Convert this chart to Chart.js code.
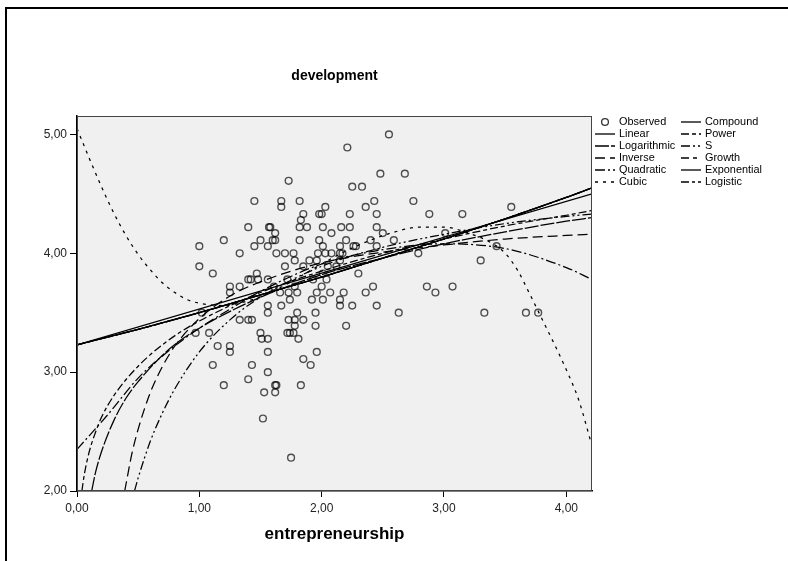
<!DOCTYPE html>
<html><head><meta charset="utf-8">
<script src="https://cdn.jsdelivr.net/npm/chart.js@4.4.1/dist/chart.umd.min.js"></script>
<style>
html,body{margin:0;padding:0;background:#fff;}
#wrap{position:relative;width:788px;height:561px;overflow:hidden;}
#frame{position:absolute;left:5px;top:7px;width:820px;height:600px;border-left:2px solid #000;border-top:2px solid #000;}
canvas{position:absolute;left:0;top:0;}
</style></head><body>
<div id="wrap"><div id="frame"></div><canvas id="c" width="788" height="561"></canvas></div>
<script>
const chartTitle = 'development';
const xAxisTitle = 'entrepreneurship';
const xTicks = [0, 1, 2, 3, 4];
const yTicks = [2, 3, 4, 5];

const observedX = [1.73,1.45,1.67,1.67,1.82,1.85,1.83,1.40,1.57,1.58,1.82,1.88,1.62,1.20,1.50,1.60,1.62,1.82,1.98,1.98,1.00,1.45,1.56,1.33,1.63,1.70,1.77,1.78,1.90,1.00,1.70,1.85,1.97,
 1.11,1.47,1.40,1.42,1.48,1.56,1.25,1.33,1.25,1.72,1.78,1.93,1.96,1.92,1.61,1.66,1.73,1.80,1.56,1.67,1.74,1.80,1.95,1.33,1.40,1.43,1.56,1.73,1.78,1.85,1.95,1.50,1.51,1.56,1.72,1.74,1.77,1.78,1.81,1.15,1.25,1.25,1.56,1.96,1.11,1.43,1.85,1.91,1.40,1.56,1.20,1.62,1.63,1.83,1.53,1.62,1.52,1.75,0.97,1.08,1.02,
 2.55,2.21,2.48,2.68,2.25,2.33,2.43,2.75,2.03,2.36,2.00,2.23,2.45,2.88,2.01,2.16,2.23,2.45,2.08,2.50,2.20,2.40,2.59,2.01,2.15,2.26,2.28,2.45,3.01,2.03,2.08,2.15,2.17,2.15,2.30,2.79,2.04,2.00,2.42,2.86,2.93,2.07,2.18,2.36,2.01,2.15,2.25,2.45,2.15,2.05,2.12,2.01,1.96,
 3.07,2.63,3.33,3.67,3.77,2.20,3.15,3.55,3.43,3.30];
const observedY = [4.61,4.44,4.44,4.39,4.44,4.33,4.28,4.22,4.22,4.22,4.22,4.22,4.17,4.11,4.11,4.11,4.11,4.11,4.11,4.33,4.06,4.06,4.06,4.00,4.00,4.00,4.00,3.94,3.94,3.89,3.89,3.89,4.00,
 3.83,3.83,3.78,3.78,3.78,3.78,3.72,3.72,3.67,3.78,3.72,3.78,3.67,3.61,3.72,3.67,3.67,3.67,3.56,3.56,3.61,3.50,3.50,3.44,3.44,3.44,3.50,3.44,3.44,3.44,3.39,3.33,3.28,3.28,3.33,3.33,3.33,3.39,3.28,3.22,3.22,3.17,3.17,3.17,3.06,3.06,3.11,3.06,2.94,3.00,2.89,2.89,2.89,2.89,2.83,2.83,2.61,2.28,3.33,3.33,3.50,
 5.00,4.89,4.67,4.67,4.56,4.56,4.44,4.44,4.39,4.39,4.33,4.33,4.33,4.33,4.22,4.22,4.22,4.22,4.17,4.17,4.11,4.11,4.11,4.06,4.06,4.06,4.06,4.06,4.17,4.00,4.00,4.00,4.00,3.94,3.83,4.00,3.78,3.72,3.72,3.72,3.67,3.67,3.67,3.67,3.61,3.61,3.56,3.56,3.56,3.89,3.89,3.83,3.94,
 3.72,3.50,3.50,3.50,3.50,3.39,4.33,4.39,4.06,3.94];

// fitted curves, values
const linearX = [0, 4.21];
const linearY = [3.23, 4.50];
const logarithmicX = [0.12, 0.15, 0.2, 0.3, 0.4, 0.5, 0.75, 1, 1.5, 2, 2.5, 3, 3.5, 4, 4.21];
const logarithmicY = [2.00, 2.15, 2.33, 2.59, 2.78, 2.92, 3.19, 3.37, 3.63, 3.82, 3.96, 4.08, 4.18, 4.27, 4.30];
const inverseX = [0.39, 0.45, 0.5, 0.6, 0.7, 0.8, 1, 1.25, 1.5, 2, 2.5, 3, 3.5, 4, 4.21];
const inverseY = [2.00, 2.32, 2.52, 2.83, 3.05, 3.22, 3.45, 3.64, 3.76, 3.92, 4.01, 4.07, 4.12, 4.15, 4.16];
const quadraticX = [0, 0.25, 0.5, 0.75, 1, 1.25, 1.5, 2, 2.5, 3, 3.5, 4, 4.21];
const quadraticY = [2.35, 2.64, 2.95, 3.18, 3.37, 3.53, 3.68, 3.91, 4.03, 4.08, 4.04, 3.88, 3.78];
const cubicX = [0, 0.1, 0.2, 0.3, 0.4, 0.5, 0.6, 0.7, 0.8, 0.9, 1.0, 1.2, 1.4, 1.6, 1.8, 2.0, 2.2, 2.4, 2.6, 2.8, 3.0, 3.2, 3.4, 3.5, 3.6, 3.7, 3.8, 3.9, 4.0, 4.1, 4.21];
const cubicY = [5.05, 4.80, 4.56, 4.34, 4.15, 3.99, 3.86, 3.75, 3.67, 3.61, 3.58, 3.56, 3.60, 3.68, 3.79, 3.91, 4.02, 4.11, 4.18, 4.22, 4.22, 4.17, 4.08, 4.00, 3.86, 3.66, 3.45, 3.24, 3.02, 2.77, 2.38];
const compoundX = [0, 0.5, 1, 1.5, 2, 2.5, 3, 3.5, 4, 4.21];
const compoundY = [3.23, 3.36, 3.50, 3.65, 3.80, 3.96, 4.12, 4.29, 4.47, 4.55];
const powerX = [0.04, 0.06, 0.1, 0.15, 0.2, 0.3, 0.5, 0.75, 1, 1.5, 2, 2.5, 3, 3.5, 4, 4.21];
const powerY = [2.00, 2.14, 2.33, 2.49, 2.62, 2.80, 3.05, 3.27, 3.43, 3.67, 3.85, 4.00, 4.12, 4.23, 4.32, 4.36];
const sCurveX = [0.47, 0.5, 0.6, 0.7, 0.8, 1, 1.25, 1.5, 2, 2.5, 3, 3.5, 4, 4.21];
const sCurveY = [2.00, 2.11, 2.42, 2.66, 2.86, 3.17, 3.44, 3.63, 3.89, 4.05, 4.16, 4.25, 4.31, 4.33];
const growthY = compoundY;
const exponentialY = compoundY;
const logisticY = compoundY;

const fmt = v => Number(v).toFixed(2).replace('.', ',');
const FONT = '"Liberation Sans", Arial, sans-serif';

const fits = [
  {label: 'Linear', x: linearX, y: linearY, dash: []},
  {label: 'Logarithmic', x: logarithmicX, y: logarithmicY, dash: [14, 2]},
  {label: 'Inverse', x: inverseX, y: inverseY, dash: [10, 5]},
  {label: 'Quadratic', x: quadraticX, y: quadraticY, dash: [10, 3, 2, 3]},
  {label: 'Cubic', x: cubicX, y: cubicY, dash: [3, 5]},
  {label: 'Compound', x: compoundX, y: compoundY, dash: []},
  {label: 'Power', x: powerX, y: powerY, dash: [8, 3, 4, 3]},
  {label: 'S', x: sCurveX, y: sCurveY, dash: [9, 3, 2, 3, 2, 3]},
  {label: 'Growth', x: compoundX, y: growthY, dash: [8, 4, 4, 4]},
  {label: 'Exponential', x: compoundX, y: exponentialY, dash: []},
  {label: 'Logistic', x: compoundX, y: logisticY, dash: [8, 3, 3, 3, 3, 3]}
];

const datasets = [{
  label: 'Observed',
  data: observedX.map((x, i) => ({x: x, y: observedY[i]})),
  showLine: false,
  pointStyle: 'circle',
  pointRadius: 3.4,
  pointBorderWidth: 1.4,
  borderColor: 'rgba(0,0,0,0.68)',
  backgroundColor: 'rgba(0,0,0,0)'
}];
fits.forEach(f => datasets.push({
  label: f.label,
  data: f.x.map((x, i) => ({x: x, y: f.y[i]})),
  showLine: true,
  pointRadius: 0,
  borderColor: '#000',
  borderWidth: 1.25,
  borderDash: f.dash,
  cubicInterpolationMode: 'monotone',
  fill: false
}));

const plotBg = {
  id: 'plotBg',
  beforeDraw(chart) {
    const {ctx, chartArea: a} = chart;
    ctx.save();
    ctx.fillStyle = '#f0f0f0';
    ctx.fillRect(a.left, a.top, a.right - a.left, a.bottom - a.top);
    ctx.restore();
  },
  afterDatasetsDraw(chart) {
    const {ctx, chartArea: a} = chart;
    ctx.save();
    ctx.strokeStyle = '#444';
    ctx.lineWidth = 1;
    ctx.strokeRect(a.left + 0.5, a.top + 0.5, a.right - a.left - 1, a.bottom - a.top - 1);
    ctx.restore();
  }
};

const spssLegend = {
  id: 'spssLegend',
  afterDraw(chart) {
    const {ctx, chartArea: a} = chart;
    ctx.save();
    ctx.font = '10.9px ' + FONT;
    ctx.textBaseline = 'middle';
    ctx.fillStyle = '#000';
    chart.data.datasets.forEach((ds, i) => {
      const col = i < 6 ? 0 : 1;
      const row = i % 6;
      const x0 = a.right + 2 + col * 86;
      const y = a.top + 6 + row * 12;
      if (i === 0) {
        ctx.beginPath();
        ctx.strokeStyle = 'rgba(0,0,0,0.8)';
        ctx.lineWidth = 1.3;
        ctx.arc(x0 + 11, y, 3.4, 0, Math.PI * 2);
        ctx.stroke();
      } else {
        ctx.beginPath();
        ctx.strokeStyle = '#000';
        ctx.lineWidth = 1.3;
        ctx.setLineDash(ds.borderDash || []);
        ctx.moveTo(x0 + 1, y);
        ctx.lineTo(x0 + 21, y);
        ctx.stroke();
        ctx.setLineDash([]);
      }
      ctx.fillText(ds.label, x0 + 25, y);
    });
    ctx.restore();
  }
};

new Chart(document.getElementById('c'), {
  type: 'scatter',
  data: {datasets: datasets},
  plugins: [plotBg, spssLegend],
  options: {
    responsive: false,
    animation: false,
    devicePixelRatio: 1,
    layout: {padding: {left: 0, right: 196, top: 0, bottom: 0}},
    plugins: {
      legend: {display: false},
      tooltip: {enabled: false},
      title: {
        display: true, text: chartTitle, fullSize: false, color: '#000',
        font: {family: FONT, size: 14, weight: 'bold'},
        padding: {top: 68, bottom: 31.2}
      }
    },
    scales: {
      x: {
        type: 'linear', min: 0, max: 4.21,
        afterBuildTicks: s => { s.ticks = xTicks.map(v => ({value: v})); },
        afterFit: s => { s.height = 70; },
        ticks: {callback: v => fmt(v), color: '#222', font: {family: FONT, size: 12}, padding: 4, maxRotation: 0, autoSkip: false},
        grid: {drawOnChartArea: false, drawTicks: true, tickLength: 6, tickColor: '#000', tickWidth: 1},
        border: {display: true, color: '#000', width: 1.5},
        title: {display: true, text: xAxisTitle, color: '#000', font: {family: FONT, size: 17, weight: 'bold'}, padding: {top: 0, bottom: 16}}
      },
      y: {
        type: 'linear', min: 2, max: 5.155,
        afterBuildTicks: s => { s.ticks = yTicks.map(v => ({value: v})); },
        afterFit: s => { s.width = 77; },
        ticks: {callback: v => fmt(v), color: '#222', font: {family: FONT, size: 12}, padding: 3, autoSkip: false},
        grid: {drawOnChartArea: false, drawTicks: true, tickLength: 7, tickColor: '#000', tickWidth: 1},
        border: {display: true, color: '#000', width: 1.5}
      }
    }
  }
});
</script>
</body></html>
